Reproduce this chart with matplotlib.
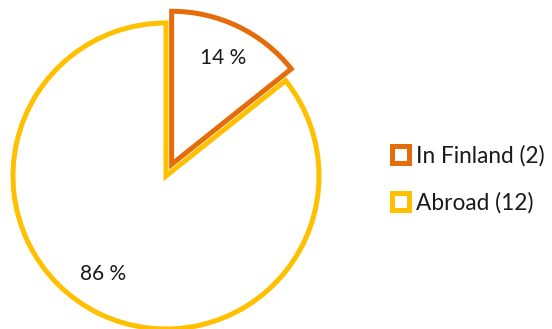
import matplotlib
matplotlib.use('Agg')
import matplotlib.pyplot as plt
import numpy as np

# data
categories = ["In Finland (2)", "Abroad (12)"]
counts = [2, 12]
colors = ["#E46C0A", "#FFC000"]
explode = [0.085, 0.0]

plt.rcParams['font.family'] = ['Lato', 'DejaVu Sans']

fig = plt.figure(figsize=(5.52, 3.29), dpi=100)
# square axes box in pixels: x 13..319, y (from top) 23..329
ax = fig.add_axes([13 / 552, 0.0, 306 / 552, 306 / 329])

wedges, texts, autotexts = ax.pie(
    counts, explode=explode, startangle=90, counterclock=False,
    autopct='%.0f %%', pctdistance=0.77,
    wedgeprops=dict(facecolor='white', linewidth=3.6, joinstyle='miter'),
    textprops=dict(fontsize=15, color='#1a1a1a'),
)
for w, c in zip(wedges, colors):
    w.set_edgecolor(c)
    w.set_clip_on(False)
# draw the exploded slice on top
wedges[0].set_zorder(3)

# Excel puts the big label a bit further round than the wedge middle
ang = np.deg2rad(-123)
autotexts[1].set_position((0.76 * np.cos(ang), 0.76 * np.sin(ang)))

ax.set_xlim(-1, 1)
ax.set_ylim(-1, 1)

leg = fig.legend(wedges, categories, loc='upper left',
                 bbox_to_anchor=(392 / 552, 1 - 145 / 329),
                 frameon=False, fontsize=16.3, handlelength=0.75, handleheight=0.75,
                 handletextpad=0.3, labelspacing=1.12, borderpad=0, borderaxespad=0)
for t in leg.get_texts():
    t.set_color('#1a1a1a')

fig.savefig('out.png', dpi=100)
